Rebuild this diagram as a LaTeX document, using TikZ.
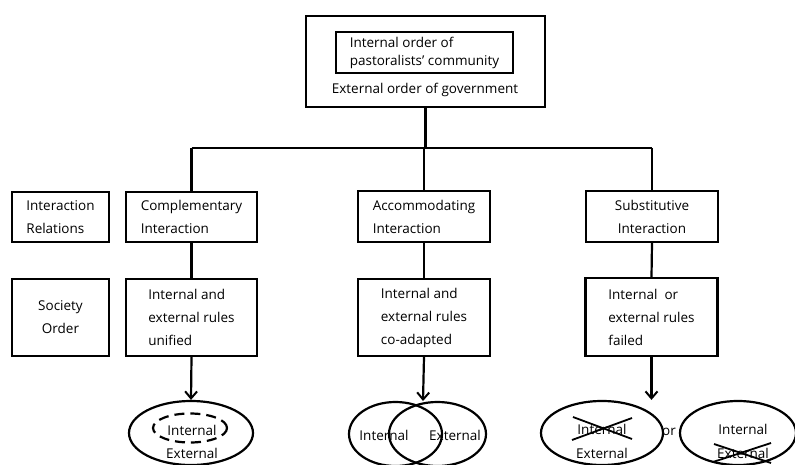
\documentclass[tikz,border=0pt]{standalone}
\usepackage{fontspec}
\setmainfont{Open Sans}
\usetikzlibrary{arrows.meta,shapes.geometric}
\tikzset{
  box/.style={draw,line width=2.2pt,inner sep=0pt,align=left,font=\fontsize{13.5}{23}\selectfont},
  ln/.style={line width=2.2pt},
  arr/.style={line width=2.2pt,-{Straight Barb[length=7pt,width=12pt,line width=2pt]}},
  ell/.style={draw,ellipse,line width=2.2pt,inner sep=0pt},
  lbl/.style={inner sep=0pt,font=\fontsize{13.5}{15}\selectfont},
  xl/.style={line width=1.8pt}
}
\begin{document}
\begin{tikzpicture}[x=1pt,y=-1pt]
\useasboundingbox (0,0) rectangle (795,465);
% top
\node[draw,line width=2.2pt,minimum width=239pt,minimum height=91pt,inner sep=0pt] (top) at (425.5,61.5) {};
\node[draw,line width=2.2pt,minimum width=177pt,minimum height=41pt,inner sep=0pt,align=left,font=\fontsize{13.5}{18}\selectfont] (inner) at (424.5,52.5) {Internal order of\\pastoralists' community};
\node[lbl] (ext) at (425,90) {External order of government};
% row 1
\node[box,minimum width=97pt,minimum height=50pt] (ir) at (60.5,217) {Interaction\\Relations};
\node[box,minimum width=131pt,minimum height=50pt] (ci) at (191.5,217) {Complementary\\Interaction};
\node[box,minimum width=132pt,minimum height=51pt] (ai) at (424,216.5) {Accommodating\\Interaction};
\node[box,minimum width=132pt,minimum height=51pt,align=center] (si) at (652,216.5) {Substitutive\\Interaction};
% row 2
\node[box,minimum width=97pt,minimum height=77pt,align=center] (so) at (60.5,317.5) {Society\\Order};
\node[box,minimum width=131pt,minimum height=77pt] (cr) at (191.5,317.5) {Internal and\\external rules\\unified};
\node[box,minimum width=132pt,minimum height=77pt] (ar) at (424,317.5) {Internal and\\external rules\\co-adapted};
\node[box,minimum width=132pt,minimum height=78pt] (sr) at (651.5,317) {Internal\ \ or\\external rules\\failed};
% tree connectors
\coordinate (hm) at (top.south |- 0,148);
\coordinate (hl) at (ci.north |- 0,148);
\coordinate (hr) at (si.north |- 0,148);
\draw[ln] (top.south) -- (hm);
\draw[ln] (hl) -- (hr);
\draw[ln] (hl) -- (ci.north);
\draw[ln] (ai.north |- hm) -- (ai.north);
\draw[ln] (hr) -- (si.north);
\draw[ln] (ci.south) -- (cr.north);
\draw[ln] (ai.south) -- (ar.north);
\draw[ln] (si.south) -- (sr.north);
% bottom ellipses
\node[ell,minimum width=124pt,minimum height=64pt] (e1) at (191,433) {};
\node[draw,ellipse,dashed,dash pattern=on 10pt off 6pt,line width=2.2pt,minimum width=74pt,minimum height=29pt,inner sep=0pt] (e1d) at (190,428) {};
\node[lbl] (e1i) at (192,430) {Internal};
\node[lbl] (e1e) at (192,453) {External};
\draw[arr] (cr.south) -- (e1.north);
\node[ell,minimum width=93pt,minimum height=64pt] (vl) at (395.5,434) {};
\node[ell,minimum width=97pt,minimum height=64pt] (vr) at (437.5,434) {};
\node[lbl] (vli) at (384,435) {Internal};
\node[lbl] (vre) at (455,435) {External};
\coordinate (vtop) at (423,401);
\draw[arr] (ar.south) -- (vtop);
\node[ell,minimum width=122pt,minimum height=64pt] (s1) at (602,433) {};
\node[lbl] (s1i) at (602,429) {Internal};
\node[lbl] (s1e) at (602,453) {External};
\draw[xl] (573,417) -- (632,439);
\draw[xl] (572,440) -- (632,418);
\node[lbl] (or) at (669,432) {or};
\node[ell,minimum width=116pt,minimum height=64pt] (s2) at (738,433) {};
\node[lbl] (s2i) at (743,429) {Internal};
\node[lbl] (s2e) at (743,453) {External};
\draw[xl] (713,462) -- (771,443);
\draw[xl] (714,444) -- (771,463);
\draw[arr] (sr.south) -- (s1.north -| sr.south);
\end{tikzpicture}
\end{document}
